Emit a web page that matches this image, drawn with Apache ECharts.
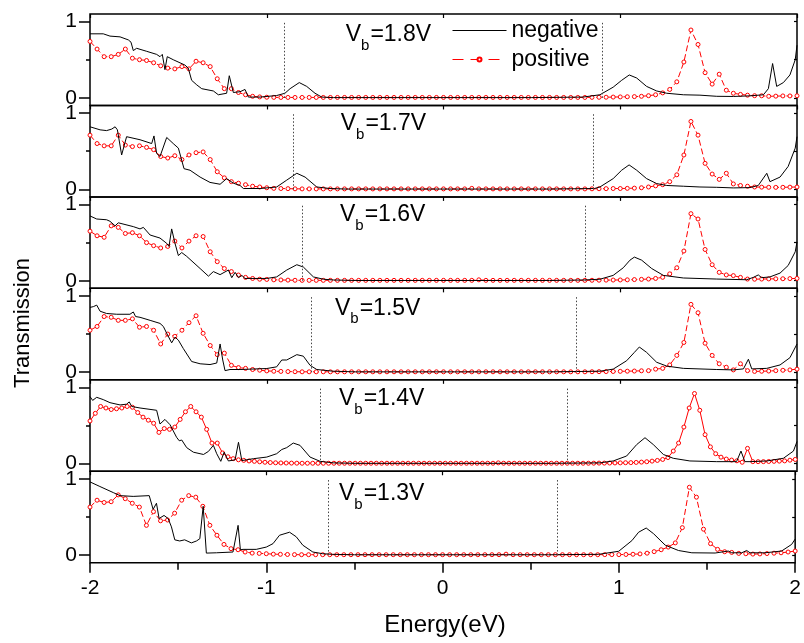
<!DOCTYPE html>
<html><head><meta charset="utf-8">
<script src="https://cdn.jsdelivr.net/npm/echarts@6/dist/echarts.min.js"></script>
<style>html,body{margin:0;padding:0;background:#fff}#c{width:804px;height:643px}</style>
</head><body><div id="c"></div>
<script>
// ---------------- DATA ----------------
const biasLabels = ['1.8V', '1.7V', '1.6V', '1.5V', '1.4V', '1.3V'];
const windowEdge = [0.9, 0.85, 0.8, 0.75, 0.7, 0.65];
const xTicks = [-2, -1, 0, 1, 2];
const yTicks = [0, 1];

// negative bias (black) : [energy, transmission]
const neg18 = [[-2.0,0.84],[-1.925,0.84],[-1.887,0.81],[-1.83,0.80],[-1.783,0.76],[-1.768,0.73],[-1.755,0.62],[-1.736,0.65],[-1.679,0.61],[-1.623,0.57],[-1.604,0.54],[-1.591,0.57],[-1.576,0.37],[-1.563,0.54],[-1.529,0.50],[-1.463,0.43],[-1.444,0.39],[-1.425,0.23],[-1.396,0.17],[-1.368,0.12],[-1.302,0.09],[-1.274,0.04],[-1.227,0.06],[-1.212,0.29],[-1.189,0.07],[-1.151,0.08],[-1.123,0.11],[-1.104,0.01],[-1.038,0.01],[-0.944,0.03],[-0.897,0.06],[-0.868,0.12],[-0.816,0.20],[-0.774,0.15],[-0.727,0.06],[-0.689,0.01],[-0.624,0.003],[0.5,0.003],[0.79,0.01],[0.885,0.04],[0.96,0.14],[1.008,0.23],[1.051,0.30],[1.093,0.26],[1.149,0.15],[1.206,0.09],[1.263,0.06],[1.357,0.04],[1.451,0.035],[1.546,0.02],[1.64,0.018],[1.734,0.026],[1.81,0.04],[1.838,0.12],[1.862,0.45],[1.885,0.15],[1.923,0.20],[1.96,0.30],[1.99,0.50],[2.0,0.69]];
const neg17 = [[-2.0,0.82],[-1.943,0.78],[-1.906,0.77],[-1.877,0.79],[-1.858,0.82],[-1.845,0.78],[-1.821,0.45],[-1.793,0.69],[-1.717,0.65],[-1.651,0.60],[-1.638,0.70],[-1.623,0.47],[-1.604,0.43],[-1.566,0.68],[-1.529,0.60],[-1.5,0.54],[-1.468,0.27],[-1.434,0.25],[-1.377,0.16],[-1.321,0.09],[-1.264,0.066],[-1.227,0.14],[-1.189,0.08],[-1.151,0.05],[-1.132,0.01],[-1.038,0.01],[-0.944,0.03],[-0.887,0.12],[-0.83,0.21],[-0.783,0.16],[-0.717,0.03],[-0.642,0.01],[-0.55,0.003],[0.6,0.003],[0.853,0.01],[0.885,0.03],[0.96,0.14],[1.008,0.25],[1.05,0.32],[1.093,0.25],[1.149,0.14],[1.206,0.075],[1.263,0.05],[1.357,0.04],[1.451,0.03],[1.546,0.026],[1.64,0.018],[1.734,0.022],[1.781,0.05],[1.829,0.21],[1.847,0.10],[1.904,0.16],[1.95,0.30],[1.99,0.54],[2.0,0.69]];
const neg16 = [[-2.0,0.85],[-1.962,0.81],[-1.906,0.80],[-1.887,0.78],[-1.858,0.72],[-1.84,0.76],[-1.755,0.71],[-1.717,0.68],[-1.698,0.70],[-1.66,0.60],[-1.604,0.56],[-1.566,0.49],[-1.553,0.45],[-1.538,0.68],[-1.519,0.49],[-1.5,0.33],[-1.481,0.37],[-1.453,0.32],[-1.377,0.16],[-1.33,0.06],[-1.302,0.12],[-1.264,0.08],[-1.217,0.14],[-1.198,0.04],[-1.179,0.11],[-1.16,0.04],[-1.141,0.07],[-1.123,0.03],[-1.0,0.03],[-0.944,0.05],[-0.887,0.14],[-0.83,0.21],[-0.793,0.18],[-0.736,0.05],[-0.68,0.02],[-0.624,0.01],[-0.5,0.003],[0.6,0.003],[0.8,0.01],[0.885,0.02],[0.96,0.07],[1.017,0.17],[1.055,0.27],[1.08,0.31],[1.121,0.27],[1.178,0.16],[1.244,0.07],[1.357,0.036],[1.546,0.022],[1.715,0.013],[1.753,0.044],[1.781,0.076],[1.8,0.04],[1.847,0.05],[1.904,0.10],[1.95,0.20],[1.99,0.38],[2.0,0.51]];
const neg15 = [[-2.0,0.85],[-1.981,0.86],[-1.962,0.88],[-1.943,0.80],[-1.906,0.77],[-1.849,0.76],[-1.774,0.76],[-1.755,0.79],[-1.742,0.73],[-1.717,0.72],[-1.66,0.68],[-1.604,0.64],[-1.585,0.60],[-1.566,0.51],[-1.538,0.385],[-1.519,0.46],[-1.5,0.42],[-1.472,0.31],[-1.425,0.14],[-1.377,0.11],[-1.321,0.10],[-1.283,0.12],[-1.264,0.37],[-1.249,0.16],[-1.236,0.02],[-1.208,0.035],[-1.151,0.035],[-1.0,0.048],[-0.944,0.07],[-0.915,0.16],[-0.887,0.16],[-0.83,0.23],[-0.793,0.21],[-0.755,0.09],[-0.717,0.035],[-0.624,0.013],[-0.5,0.004],[0.6,0.004],[0.8,0.01],[0.885,0.013],[0.96,0.04],[1.036,0.15],[1.08,0.26],[1.108,0.33],[1.149,0.26],[1.206,0.13],[1.263,0.08],[1.357,0.05],[1.546,0.035],[1.64,0.03],[1.697,0.043],[1.725,0.17],[1.744,0.043],[1.829,0.05],[1.904,0.095],[1.96,0.19],[2.0,0.37]];
const neg14 = [[-2.0,0.88],[-1.985,0.83],[-1.962,0.87],[-1.925,0.84],[-1.887,0.80],[-1.83,0.77],[-1.793,0.78],[-1.778,0.81],[-1.764,0.75],[-1.717,0.73],[-1.623,0.70],[-1.604,0.52],[-1.576,0.58],[-1.547,0.51],[-1.51,0.345],[-1.495,0.30],[-1.481,0.31],[-1.453,0.21],[-1.415,0.15],[-1.358,0.12],[-1.33,0.16],[-1.302,0.24],[-1.283,0.13],[-1.26,0.03],[-1.241,0.15],[-1.217,0.035],[-1.179,0.05],[-1.16,0.28],[-1.141,0.04],[-1.075,0.065],[-1.0,0.086],[-0.944,0.13],[-0.915,0.185],[-0.887,0.21],[-0.85,0.27],[-0.812,0.24],[-0.755,0.086],[-0.698,0.03],[-0.624,0.01],[-0.5,0.004],[0.6,0.004],[0.885,0.01],[0.96,0.035],[1.036,0.10],[1.093,0.25],[1.14,0.34],[1.187,0.25],[1.244,0.12],[1.3,0.07],[1.394,0.035],[1.546,0.026],[1.658,0.026],[1.683,0.165],[1.705,0.026],[1.734,0.026],[1.829,0.035],[1.923,0.07],[1.98,0.165],[2.0,0.29]];
const neg13 = [[-2.0,0.96],[-1.944,0.90],[-1.868,0.82],[-1.83,0.78],[-1.755,0.77],[-1.664,0.78],[-1.642,0.60],[-1.623,0.68],[-1.608,0.48],[-1.58,0.52],[-1.557,0.48],[-1.538,0.37],[-1.519,0.20],[-1.491,0.185],[-1.463,0.20],[-1.425,0.16],[-1.396,0.185],[-1.377,0.215],[-1.358,0.64],[-1.34,0.026],[-1.283,0.03],[-1.189,0.04],[-1.16,0.39],[-1.147,0.07],[-1.132,0.075],[-1.057,0.075],[-1.0,0.105],[-0.962,0.15],[-0.925,0.26],[-0.868,0.30],[-0.83,0.24],[-0.793,0.13],[-0.736,0.04],[-0.68,0.018],[-0.624,0.01],[-0.5,0.004],[0.6,0.004],[0.885,0.01],[0.999,0.05],[1.074,0.19],[1.112,0.30],[1.155,0.355],[1.197,0.28],[1.263,0.13],[1.338,0.06],[1.414,0.03],[1.546,0.027],[1.621,0.053],[1.64,0.03],[1.697,0.03],[1.725,0.06],[1.744,0.03],[1.829,0.03],[1.923,0.053],[1.98,0.14],[2.0,0.21]];

// positive bias (red, with symbols) : values on a uniform energy mesh starting at -2 eV
const posStep = [0.04, 0.04, 0.04, 0.04, 0.03, 0.04];
const pos18 = [0.74,0.64,0.54,0.54,0.57,0.64,0.52,0.50,0.49,0.46,
 0.42,0.39,0.38,0.41,0.38,0.48,0.46,0.41,0.25,0.12,
 0.12,0.07,0.04,0.02,0.012,0.008,0.006,0.005,0.005,0.005,
 0.005,0.005,0.005,0.005,0.005,0.005,0.005,0.005,0.005,0.005,
 0.005,0.005,0.005,0.005,0.005,0.005,0.005,0.005,0.005,0.005,
 0.005,0.005,0.005,0.005,0.005,0.005,0.005,0.005,0.005,0.005,
 0.005,0.005,0.005,0.005,0.005,0.005,0.005,0.005,0.005,0.005,
 0.005,0.006,0.007,0.008,0.010,0.012,0.014,0.016,0.020,0.028,
 0.040,0.065,0.11,0.21,0.47,0.89,0.70,0.33,0.18,0.31,
 0.10,0.06,0.045,0.035,0.028,0.027,0.020,0.022,0.025,0.025,
 0.027];
const pos17 = [0.71,0.60,0.57,0.57,0.71,0.58,0.56,0.57,0.55,0.52,
 0.43,0.41,0.44,0.39,0.45,0.48,0.49,0.39,0.23,0.15,
 0.10,0.08,0.06,0.04,0.03,0.02,0.012,0.010,0.008,0.006,
 0.005,0.005,0.005,0.005,0.005,0.005,0.005,0.005,0.005,0.005,
 0.005,0.005,0.005,0.005,0.005,0.005,0.005,0.005,0.005,0.005,
 0.005,0.005,0.005,0.005,0.012,0.005,0.005,0.005,0.005,0.005,
 0.005,0.005,0.005,0.005,0.005,0.005,0.005,0.005,0.005,0.005,
 0.005,0.006,0.007,0.008,0.010,0.010,0.012,0.015,0.020,0.030,
 0.045,0.060,0.10,0.19,0.45,0.89,0.71,0.34,0.20,0.13,
 0.21,0.07,0.05,0.04,0.03,0.028,0.026,0.025,0.026,0.028,
 0.030];
const pos16 = [0.65,0.59,0.57,0.72,0.70,0.62,0.63,0.59,0.50,0.46,
 0.43,0.45,0.52,0.43,0.52,0.59,0.58,0.38,0.25,0.16,
 0.12,0.075,0.044,0.03,0.02,0.017,0.012,0.010,0.008,0.006,
 0.005,0.005,0.005,0.005,0.005,0.005,0.005,0.005,0.005,0.005,
 0.005,0.005,0.005,0.005,0.005,0.005,0.005,0.005,0.005,0.005,
 0.005,0.005,0.005,0.005,0.005,0.012,0.005,0.005,0.005,0.005,
 0.005,0.005,0.005,0.005,0.005,0.005,0.005,0.005,0.005,0.005,
 0.005,0.006,0.007,0.008,0.009,0.010,0.012,0.015,0.018,0.022,
 0.03,0.045,0.09,0.17,0.39,0.88,0.81,0.41,0.21,0.11,
 0.076,0.067,0.044,0.022,0.020,0.022,0.024,0.025,0.026,0.028,
 0.03];
const pos15 = [0.55,0.60,0.73,0.72,0.68,0.68,0.70,0.59,0.60,0.55,
 0.37,0.50,0.47,0.55,0.65,0.74,0.51,0.35,0.23,0.25,
 0.09,0.06,0.05,0.035,0.026,0.017,0.012,0.010,0.008,0.006,
 0.005,0.005,0.005,0.005,0.005,0.005,0.005,0.005,0.005,0.005,
 0.005,0.005,0.005,0.005,0.005,0.005,0.005,0.005,0.005,0.005,
 0.005,0.005,0.005,0.005,0.005,0.005,0.005,0.005,0.005,0.005,
 0.005,0.005,0.005,0.005,0.005,0.005,0.005,0.005,0.005,0.005,
 0.005,0.006,0.007,0.008,0.009,0.011,0.013,0.015,0.018,0.020,
 0.04,0.05,0.095,0.22,0.39,0.89,0.78,0.38,0.22,0.11,
 0.065,0.03,0.11,0.02,0.01,0.012,0.015,0.02,0.025,0.03,
 0.04];
const pos14 = [0.56,0.66,0.75,0.73,0.71,0.72,0.73,0.75,0.74,0.67,
 0.61,0.57,0.53,0.41,0.46,0.45,0.48,0.58,0.68,0.75,
 0.68,0.61,0.45,0.27,0.27,0.14,0.09,0.065,0.05,0.043,
 0.035,0.03,0.024,0.018,0.014,0.011,0.009,0.008,0.007,0.006,
 0.005,0.005,0.005,0.005,0.005,0.005,0.005,0.005,0.005,0.005,
 0.005,0.005,0.005,0.005,0.005,0.005,0.005,0.005,0.005,0.005,
 0.005,0.005,0.005,0.005,0.005,0.005,0.005,0.005,0.005,0.005,
 0.005,0.005,0.005,0.005,0.005,0.005,0.005,0.010,0.005,0.005,
 0.005,0.005,0.005,0.005,0.005,0.005,0.005,0.005,0.005,0.005,
 0.005,0.005,0.005,0.005,0.005,0.006,0.007,0.007,0.008,0.009,
 0.010,0.012,0.013,0.016,0.020,0.025,0.033,0.042,0.055,0.08,
 0.165,0.27,0.48,0.73,0.92,0.70,0.38,0.22,0.13,0.085,
 0.06,0.047,0.037,0.018,0.20,0.026,0.026,0.026,0.028,0.03,
 0.033,0.036,0.045,0.055];
const pos13 = [0.63,0.72,0.69,0.70,0.79,0.74,0.68,0.63,0.39,0.57,
 0.45,0.46,0.55,0.72,0.78,0.76,0.64,0.39,0.26,0.14,
 0.084,0.07,0.04,0.026,0.022,0.018,0.012,0.010,0.008,0.006,
 0.005,0.005,0.005,0.005,0.005,0.005,0.005,0.005,0.005,0.005,
 0.005,0.005,0.005,0.005,0.005,0.005,0.005,0.005,0.005,0.005,
 0.005,0.005,0.005,0.005,0.005,0.005,0.005,0.005,0.005,0.012,
 0.005,0.005,0.005,0.005,0.005,0.005,0.005,0.005,0.005,0.005,
 0.005,0.005,0.005,0.006,0.006,0.006,0.008,0.011,0.015,0.025,
 0.045,0.07,0.105,0.16,0.36,0.89,0.76,0.34,0.15,0.075,
 0.044,0.035,0.022,0.018,0.013,0.015,0.02,0.025,0.03,0.04,
 0.053];

const negSets = [neg18, neg17, neg16, neg15, neg14, neg13];
const posSets = [pos18, pos17, pos16, pos15, pos14, pos13];

// ---------------- LAYOUT / STYLE ----------------
const FONT = '"Liberation Sans", Arial, Helvetica, sans-serif';
const PLOT_LEFT = 90, PLOT_RIGHT = 7, PLOT_TOP = 14, PANEL_H = 91.45;
const labelPos = [[345.7, 42.3], [340.7, 131], [340, 222], [335, 315.7], [339, 406], [339, 501]];

const chart = echarts.init(document.getElementById('c'), null, {renderer: 'canvas'});

const noLine = {show: false, onZero: false};
const grids = [], xAxes = [], yAxes = [], series = [], graphics = [];
const n = negSets.length;
for (let k = 0; k < n; k++) {
  grids.push({left: PLOT_LEFT, right: PLOT_RIGHT, top: PLOT_TOP + k * PANEL_H, height: PANEL_H,
    show: true, borderColor: '#000', borderWidth: 1.5, backgroundColor: 'transparent', containLabel: false});
  const xi = xAxes.length;
  xAxes.push({type: 'value', gridIndex: k, min: -2, max: 2, interval: 1, position: 'top',
    axisLine: noLine, axisLabel: {show: false}, splitLine: {show: false},
    axisTick: {show: true, inside: true, length: 4, lineStyle: {color: '#000', width: 1.2}}});
  if (k === n - 1) {
    xAxes.push({type: 'value', gridIndex: k, min: -2, max: 2, interval: 1, position: 'bottom',
      axisLine: noLine, splitLine: {show: false},
      axisTick: {show: true, inside: false, length: 10, lineStyle: {color: '#000', width: 1.5}},
      minorTick: {show: true, splitNumber: 2, length: 7, lineStyle: {color: '#000', width: 1.5}},
      axisLabel: {show: true, customValues: xTicks, fontSize: 21, fontFamily: FONT, color: '#000', margin: 15}});
  }
  const yi = yAxes.length;
  yAxes.push({type: 'value', gridIndex: k, min: -0.1, max: 1.1, position: 'left',
    axisLine: noLine, splitLine: {show: false},
    axisTick: {show: true, inside: false, length: 11, customValues: yTicks, lineStyle: {color: '#000', width: 1.5}},
    axisLabel: {show: true, customValues: yTicks, fontSize: 21, fontFamily: FONT, color: '#000', margin: 13}});
  yAxes.push({type: 'value', gridIndex: k, min: -0.1, max: 1.1, position: 'left',
    axisLine: noLine, splitLine: {show: false}, axisLabel: {show: false},
    axisTick: {show: true, inside: false, length: 4, customValues: [0.5], lineStyle: {color: '#000', width: 1.5}}});
  yAxes.push({type: 'value', gridIndex: k, min: -0.1, max: 1.1, position: 'right',
    axisLine: noLine, splitLine: {show: false}, axisLabel: {show: false},
    axisTick: {show: true, inside: true, length: 3, customValues: [0, 0.5, 1], lineStyle: {color: '#000', width: 1.2}}});

  const step = posStep[k];
  const posData = posSets[k].map((v, i) => [Math.round((-2 + step * i) * 1000) / 1000, v]);
  series.push({name: 'positive', type: 'line', xAxisIndex: xi, yAxisIndex: yi, data: posData,
    symbol: 'circle', symbolSize: 4, showAllSymbol: true, silent: true, animation: false,
    itemStyle: {color: '#fff', borderColor: '#ff0000', borderWidth: 1},
    lineStyle: {color: '#ff0000', width: 1, type: k === 4 ? 'solid' : [6, 3]}, z: 2});
  const e = windowEdge[k];
  series.push({name: 'negative', type: 'line', xAxisIndex: xi, yAxisIndex: yi, data: negSets[k],
    symbol: 'none', silent: true, animation: false,
    itemStyle: {color: '#000'},
    lineStyle: {color: '#000', width: 1}, z: 3,
    markLine: {silent: true, symbol: 'none', animation: false, label: {show: false},
      lineStyle: {color: '#444', width: 1, type: [1.5, 2]},
      data: [[{coord: [-e, 0]}, {coord: [-e, 1]}], [{coord: [e, 0]}, {coord: [e, 1]}]]}});

  const [lx, ly] = labelPos[k];
  graphics.push({type: 'text', x: lx, y: ly - 19, z: 10,
    style: {text: '{v|V}{s|b}{v|=' + biasLabels[k] + '}', verticalAlign: 'top', textVerticalAlign: 'top',
      rich: {v: {fontSize: 23, fontFamily: FONT, fill: '#000', color: '#000', lineHeight: 23, verticalAlign: 'top'},
             s: {fontSize: 15, fontFamily: FONT, fill: '#000', color: '#000', lineHeight: 15, verticalAlign: 'top', padding: [15, 1, 0, 0]}}}});
}

graphics.push({type: 'text', x: 445, y: 625, z: 10,
  style: {text: 'Energy(eV)', fontSize: 24, fontFamily: FONT, fill: '#000', align: 'center', textAlign: 'center', verticalAlign: 'middle', textVerticalAlign: 'middle'}});
graphics.push({type: 'text', x: 23, y: 323, rotation: Math.PI / 2, z: 10,
  style: {text: 'Transmission', fontSize: 22, fontFamily: FONT, fill: '#000', align: 'center', textAlign: 'center', verticalAlign: 'middle', textVerticalAlign: 'middle'}});

chart.setOption({
  animation: false,
  backgroundColor: '#fff',
  grid: grids, xAxis: xAxes, yAxis: yAxes, series: series,
  legend: {data: [
      {name: 'negative', itemStyle: {opacity: 0}, lineStyle: {color: '#000', width: 1, type: 'solid'}},
      {name: 'positive', lineStyle: {color: '#ff0000', width: 1, type: [11, 7]}}],
    orient: 'vertical', left: 452, top: 19, itemWidth: 54, itemHeight: 5, itemGap: 6,
    selectedMode: false, textStyle: {fontSize: 23, fontFamily: FONT, color: '#000'}, padding: 0},
  graphic: graphics
});
</script></body></html>
